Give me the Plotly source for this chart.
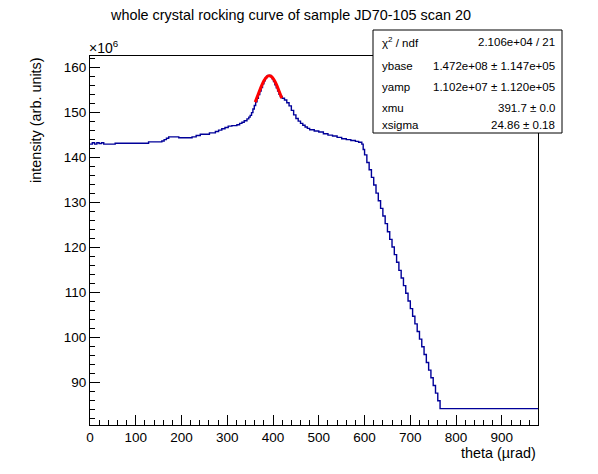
import plotly.graph_objects as go

# rocking curve histogram (bin edges in urad, intensity in 1e6 arb. units)
theta = [0, 5, 10, 15, 20, 25, 30, 55, 128, 157, 162, 167, 172, 194, 223, 232,
         241, 261, 274, 281, 288, 295, 302, 310, 321, 327, 332, 337, 343, 347,
         350, 353, 356, 359, 362, 365, 368, 371, 374, 377, 380, 383, 386, 389,
         392, 395, 398, 401, 404, 407, 410, 413, 416, 420, 425, 430, 435, 440,
         445, 450, 455, 460, 465, 470, 475, 480, 490, 500, 510, 520, 530, 540,
         550, 560, 570, 580, 587, 594, 597,
         600, 605, 610, 615, 620, 625, 630, 635, 640, 645, 650, 655, 660, 665,
         670, 675, 680, 685, 690, 695, 700, 705, 710, 715, 720, 725, 730, 735,
         740, 745, 750, 755, 760, 765, 979]
intensity = [143.0, 143.3, 143.0, 143.3, 143.1, 143.3, 143.0, 143.2, 143.5, 143.7,
             144.0, 144.3, 144.6, 144.4, 144.6, 144.9, 145.2, 145.5, 145.8, 146.1,
             146.4, 146.7, 147.0, 147.1, 147.3, 147.6, 147.85, 148.2, 148.6, 149.0,
             149.4, 150.0, 150.8, 151.6, 152.4, 153.2, 154.0, 154.8, 155.6, 156.4,
             157.1, 157.7, 158.1, 158.3, 158.3, 158.0, 157.5, 156.9, 156.2, 155.5,
             154.8, 154.1, 153.6, 153.2, 152.8, 152.2, 151.5, 150.5, 149.5, 148.7,
             148.1, 147.6, 147.2, 146.8, 146.5, 146.2, 145.9, 145.7, 145.3, 145.0,
             144.8, 144.5, 144.2, 144.0, 143.8, 143.6, 143.4, 143.0, 141.8,
             140.6, 138.9, 137.3, 135.6, 133.9, 132.1, 130.4, 128.7, 127.0, 125.3,
             123.5, 121.8, 120.1, 118.4, 116.7, 114.9, 113.2, 111.5, 109.8, 108.1,
             106.4, 104.7, 103.0, 101.3, 99.6, 97.9, 96.2, 94.4, 92.7, 91.0,
             89.3, 87.6, 85.9, 84.15, 84.15]

# gaussian fit curve
fit_theta = [361, 365, 369, 373, 377, 381, 385, 389, 392, 395, 399, 403, 407,
             411, 415, 419]
fit_int = [152.34, 153.39, 154.46, 155.50, 156.45, 157.24, 157.83, 158.15, 158.22,
           158.12, 157.76, 157.14, 156.32, 155.35, 154.30, 153.23]

stat_names = ["\u03c7<sup>2</sup> / ndf", "ybase", "yamp", "xmu", "xsigma"]
stat_values = ["2.106e+04 / 21", "1.472e+08 \u00b1 1.147e+05",
               "1.102e+07 \u00b1 1.120e+05", "391.7 \u00b1 0.0", "24.86 \u00b1 0.18"]

W, H = 598, 474
ML, MR, MT, MB = 90, 60, 56, 49
font = "Liberation Sans, Arial, sans-serif"


def px2paper(px, py):
    # paper coords are relative to the plot area, so convert from canvas pixels
    return (px - ML) / (W - ML - MR), (H - MB - py) / (H - MT - MB)


fig = go.Figure()
fig.add_trace(go.Scatter(x=theta, y=intensity, mode="lines", line_shape="hv",
                         line=dict(color="#000099", width=1.4), showlegend=False))
fig.add_trace(go.Scatter(x=fit_theta, y=fit_int, mode="lines", line_shape="spline",
                         line=dict(color="#ff0000", width=3), showlegend=False))

axis_common = dict(showgrid=False, zeroline=False, showline=True, linecolor="black",
                   linewidth=1, mirror=True, ticks="inside", ticklen=10,
                   tickcolor="black", tickfont=dict(size=13.5, color="black"))
fig.update_xaxes(range=[0, 979], dtick=100, tick0=0,
                 minor=dict(dtick=20, ticks="inside", ticklen=5, tickcolor="black"),
                 **axis_common)
fig.update_yaxes(range=[80.5, 162.6], dtick=10, tick0=0,
                 minor=dict(dtick=2, ticks="inside", ticklen=5, tickcolor="black"),
                 **axis_common)


def note(text, px, py, anchor="center", size=14.4, angle=0):
    x, y = px2paper(px, py)
    return dict(text=text, x=x, y=y, xref="paper", yref="paper",
                xanchor=anchor, yanchor="middle", showarrow=False,
                textangle=angle, font=dict(size=size))


ann = [
    note("whole crystal rocking curve of sample JD70-105 scan 20", 290, 15),
    note("intensity (arb. units)", 36, 120, angle=-90),
    note("theta (\u00b5rad)", 538, 453, anchor="right"),
    note("\u00d710<sup>6</sup>", 87, 47, anchor="left", size=14),
]
rows_y = [41.7, 66.2, 86.7, 107.5, 124.8]
for name, val, ry in zip(stat_names, stat_values, rows_y):
    ann.append(note(name, 380, ry, anchor="left", size=11.5))
    ann.append(note(val, 557, ry, anchor="right", size=11.5))

bx0, by0 = px2paper(373, 133)
bx1, by1 = px2paper(562, 30)

fig.update_layout(
    width=W, height=H,
    margin=dict(l=ML, r=MR, t=MT, b=MB),
    paper_bgcolor="white", plot_bgcolor="white",
    font=dict(family=font, color="black"),
    annotations=ann,
    shapes=[dict(type="rect", xref="paper", yref="paper",
                 x0=bx0, x1=bx1, y0=by0, y1=by1,
                 fillcolor="white", line=dict(color="black", width=1),
                 layer="above")],
)

fig.write_html("out.html", config={"displayModeBar": False},
               post_script="document.body.style.margin='0';")
